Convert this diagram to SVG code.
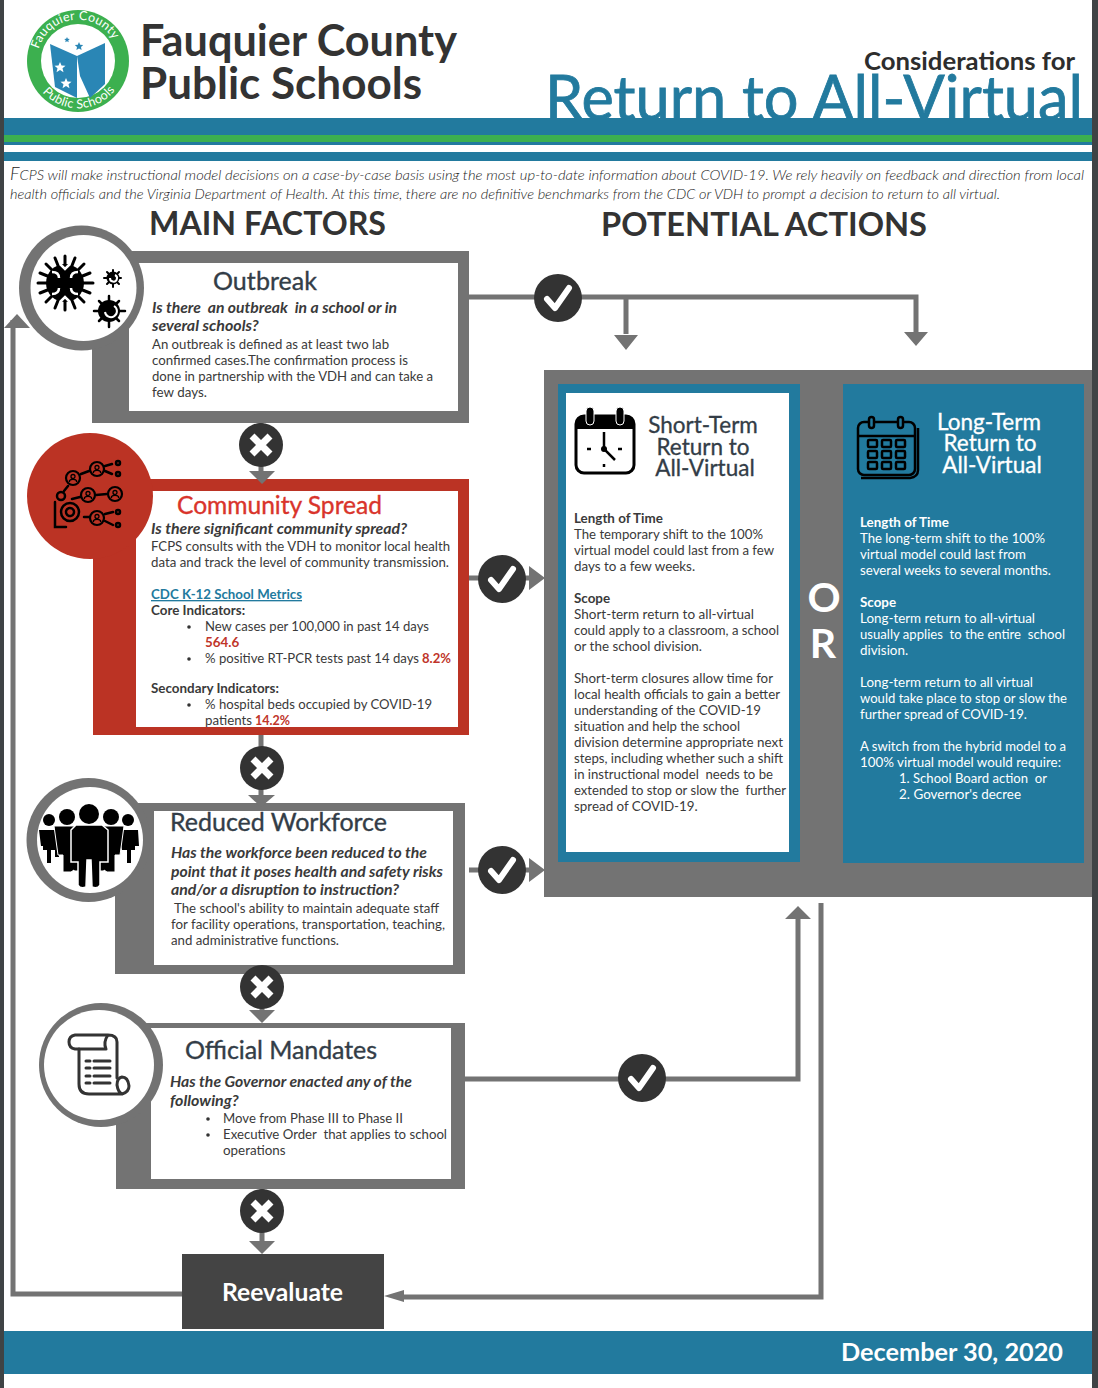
<svg xmlns="http://www.w3.org/2000/svg" width="1098" height="1388" viewBox="0 0 1098 1388">
<style>
text{font-family:Lato,"Liberation Sans",sans-serif;fill:#3a3a3a;white-space:pre}
.b{font-size:13.4px}
.bw{font-size:13.4px;fill:#fff}
.s{font-size:13.4px;font-weight:700}
.q{font-size:16px;font-weight:700;font-style:italic}
.t{font-size:25px;fill:#333d47;stroke:#333d47;stroke-width:.35}
.t2{font-size:22.500px;fill:#333d47;stroke:#333d47;stroke-width:.3}
.t3{font-size:22.500px;fill:#fff;stroke:#fff;stroke-width:.3}
.h{font-size:33px;font-weight:700;fill:#333}
.r{font-weight:700;fill:#c0352a;font-size:13.4px}
.g{fill:#737373}
.ln{fill:none;stroke:#737373;stroke-width:5}
.ic{fill:none;stroke:#000;stroke-width:2.500;stroke-linecap:round}
.ic2{fill:none;stroke:#333;stroke-width:3;stroke-linecap:round;stroke-linejoin:round}
.mk{fill:none;stroke:#fff;stroke-width:6;stroke-linecap:round;stroke-linejoin:round}
.bt{fill:#333}
</style>
<defs>
<g id="yes"><circle r="24" class="bt"/><path d="M-11,1 L-3,10 L11,-10" class="mk"/></g>
<g id="no"><circle r="22" class="bt"/><path d="M-9,-9 L9,9 M9,-9 L-9,9" class="mk" style="stroke-width:7;stroke-linecap:butt"/></g>
<g id="p"><circle r="7" fill="none" stroke="#000" stroke-width="2.200"/><circle cy="-1.500" r="2" fill="none" stroke="#000" stroke-width="1.300"/><path d="M-3.500,4 V2.500 Q0,0 3.500,2.500 V4" fill="none" stroke="#000" stroke-width="1.300"/></g>
</defs>
<rect width="1098" height="1388" fill="#fff"/>
<rect x="0" y="0" width="4" height="1388" fill="#3f4345"/>
<rect x="1092" y="0" width="6" height="1388" fill="#3f4345"/>

<g id="header">
<circle cx="78" cy="61" r="51" fill="#3cb04f"/><circle cx="78" cy="61" r="37" fill="#fff"/>
<path id="arcTop" d="M38.400,50 A41,41 0 0 1 117.600,50" fill="none"/>
<path id="arcBot" d="M40,89 A47,47 0 0 0 116,89" fill="none"/>
<text font-size="12.500" letter-spacing=".3" style="fill:#fff"><textPath href="#arcTop" startOffset="1">Fauquier County</textPath></text>
<text font-size="12.500" letter-spacing=".3" style="fill:#fff"><textPath href="#arcBot" startOffset="4">Public Schools</textPath></text>
<path d="M50,44 L77,56 V98 L55,87 Z" fill="#2a86b5"/><path d="M77,56 L105,43 V84 L90,98 L80,76 Z" fill="#2a86b5"/>
<path d="M60,62 l1.500,3.500 4,.3 -3,2.500 1,4 -3.500,-2.200 -3.500,2.200 1,-4 -3,-2.500 4,-.3z M66,78 l1.500,3.500 4,.3 -3,2.500 1,4 -3.500,-2.200 -3.500,2.200 1,-4 -3,-2.500 4,-.3z" fill="#fff"/>
<path d="M79,42 l1.200,2.700 3,.3 -2.200,2 .6,3 -2.600,-1.500 -2.600,1.500 .6,-3 -2.200,-2 3,-.3z M67,37 l.8,1.800 2,.2 -1.500,1.300 .4,2 -1.700,-1 -1.700,1 .4,-2 -1.500,-1.300 2,-.2z" fill="#2a86b5"/>
<text x="140" y="56" font-size="43" font-weight="700" style="fill:#333" textLength="317" lengthAdjust="spacingAndGlyphs">Fauquier County</text>
<text x="140" y="99" font-size="43" font-weight="700" style="fill:#333" textLength="282" lengthAdjust="spacingAndGlyphs">Public Schools</text>
<text x="1075" y="70" font-size="24" font-weight="700" text-anchor="end" style="fill:#2d2d2d" textLength="211" lengthAdjust="spacingAndGlyphs">Considerations for</text>
<text x="545" y="120" font-size="62" style="fill:#227a9e;stroke:#227a9e;stroke-width:.8" textLength="538" lengthAdjust="spacingAndGlyphs">Return to All-Virtual</text>
<rect x="4" y="118" width="1088" height="27" fill="#227a9e"/>
<rect x="4" y="135" width="1088" height="7" fill="#3cb04f"/>
<rect x="4" y="152" width="1088" height="9" fill="#227a9e"/>
<text x="10" y="180" font-size="14" font-style="italic" font-weight="300" style="fill:#222" textLength="1074" lengthAdjust="spacingAndGlyphs"><tspan font-size="17">F</tspan>CPS will make instructional model decisions on a case-by-case basis using the most up-to-date information about COVID-19. We rely heavily on feedback and direction from local</text>
<text x="10" y="199" font-size="14" font-style="italic" font-weight="300" style="fill:#222" textLength="990" lengthAdjust="spacingAndGlyphs">health officials and the Virginia Department of Health. At this time, there are no definitive benchmarks from the CDC or VDH to prompt a decision to return to all virtual.</text>
<text x="149" y="235" class="h" textLength="237" lengthAdjust="spacingAndGlyphs">MAIN FACTORS</text>
<text x="601" y="236" class="h" textLength="326" lengthAdjust="spacingAndGlyphs">POTENTIAL ACTIONS</text>
</g>

<g id="outbreak">
<rect x="92" y="251" width="377" height="172" class="g"/>
<rect x="129" y="263" width="329" height="148" fill="#fff"/>
<circle cx="81.500" cy="288" r="62.500" class="g"/><circle cx="83.500" cy="288" r="53" fill="#fff"/>
<g stroke="#000" stroke-width="3" stroke-linecap="round">
<path d="M65,256 V310 M38,283 H93 M46,264 L84,302 M84,264 L46,302 M55,258 L75,308 M75,258 L55,308 M40,273 L90,293 M40,293 L90,273"/>
<path d="M113,270 V287 M104,278 H121 M107,272 L119,284 M119,272 L107,284" stroke-width="2"/>
<path d="M109,296 V327 M94,311 H125 M99,301 L119,321 M119,301 L99,321" stroke-width="2.500"/>
</g>
<circle cx="65" cy="283" r="19" fill="#000"/><circle cx="113" cy="278" r="6.500" fill="#000"/><circle cx="109" cy="311" r="11" fill="#000"/>
<path d="M52,272 q7,0 7,6 M78,272 q-7,0 -7,6 M52,294 q7,0 7,-6 M78,294 q-7,0 -7,-6 M60,264 l5,5 5,-5 M60,302 l5,-5 5,5" fill="none" stroke="#fff" stroke-width="2.500"/>
<path d="M115,275 a3.500,3.500 0 1 1 -5,3 M114,306 a6,6 0 1 1 -9,6" fill="none" stroke="#fff" stroke-width="2"/>
<text x="213" y="290" class="t" textLength="104" lengthAdjust="spacing">Outbreak</text>
<text x="152" y="313" class="q" textLength="245" lengthAdjust="spacingAndGlyphs">Is there  an outbreak  in a school or in</text>
<text x="152" y="331" class="q">several schools?</text>
<text x="152" y="349" class="b" textLength="237" lengthAdjust="spacingAndGlyphs">An outbreak is defined as at least two lab</text>
<text x="152" y="365" class="b" textLength="256" lengthAdjust="spacingAndGlyphs">confirmed cases.The confirmation process is</text>
<text x="152" y="381" class="b" textLength="281" lengthAdjust="spacingAndGlyphs">done in partnership with the VDH and can take a</text>
<text x="152" y="397" class="b">few days.</text>
</g>

<g id="community-spread">
<rect x="93" y="479" width="376" height="256" fill="#bb3324"/>
<rect x="136" y="491" width="322" height="236" fill="#fff"/>
<circle cx="90" cy="496" r="63" fill="#bb3324"/>
<use href="#p" x="73" y="478"/><use href="#p" x="97" y="469"/><use href="#p" x="88" y="495"/><use href="#p" x="115" y="494"/><use href="#p" x="97" y="518"/>
<g class="ic">
<circle cx="70" cy="512" r="9"/><circle cx="70" cy="512" r="4" stroke-dasharray="2 1"/><circle cx="61" cy="496" r="4"/>
<circle cx="118" cy="463" r="2"/><circle cx="118" cy="474" r="2"/><circle cx="118" cy="512" r="2"/><circle cx="118" cy="525" r="2"/>
<path d="M81,474 L89,471 M105,466 L112,464 M105,471 L112,474 M72,499 L80,497 M96,495 L107,494 M84,517 L89,517 M105,514 L113,512 M105,521 L113,525 M64,491 L68,486 M55,502 V527 H66"/>
</g>
<text x="177" y="514" font-size="24.600" style="fill:#d9342b;stroke:#d9342b;stroke-width:.35" textLength="205" lengthAdjust="spacing">Community Spread</text>
<text x="151" y="534" class="q" textLength="256" lengthAdjust="spacingAndGlyphs">Is there significant community spread?</text>
<text x="151" y="551" class="b" textLength="299" lengthAdjust="spacingAndGlyphs">FCPS consults with the VDH to monitor local health</text>
<text x="151" y="567" class="b" textLength="298" lengthAdjust="spacingAndGlyphs">data and track the level of community transmission.</text>
<text x="151" y="599" class="s" style="fill:#227a9e" text-decoration="underline" textLength="151" lengthAdjust="spacingAndGlyphs">CDC K-12 School Metrics</text>
<text x="151" y="615" class="s">Core Indicators:</text>
<circle cx="189" cy="627" r="1.800" fill="#333"/>
<text x="205" y="631" class="b" textLength="224" lengthAdjust="spacingAndGlyphs">New cases per 100,000 in past 14 days</text>
<text x="205" y="647" class="r">564.6</text>
<circle cx="189" cy="659" r="1.800" fill="#333"/>
<text x="205" y="663" class="b" textLength="214" lengthAdjust="spacingAndGlyphs">% positive RT-PCR tests past 14 days</text>
<text x="422" y="663" class="r" textLength="29" lengthAdjust="spacingAndGlyphs">8.2%</text>
<text x="151" y="693" class="s">Secondary Indicators:</text>
<circle cx="189" cy="705" r="1.800" fill="#333"/>
<text x="205" y="709" class="b" textLength="227" lengthAdjust="spacingAndGlyphs">% hospital beds occupied by COVID-19</text>
<text x="205" y="725" class="b" textLength="47" lengthAdjust="spacingAndGlyphs">patients</text>
<text x="255" y="725" class="r" textLength="35" lengthAdjust="spacingAndGlyphs">14.2%</text>
</g>

<g id="reduced-workforce">
<rect x="115" y="803" width="350" height="171" class="g"/>
<rect x="154" y="811" width="299" height="154" fill="#fff"/>
<circle cx="88.500" cy="840" r="62" class="g"/><circle cx="90" cy="840" r="53" fill="#fff"/>
<circle cx="49" cy="820" r="6" fill="#000"/><circle cx="128" cy="820" r="6" fill="#000"/><circle cx="67" cy="817" r="8" fill="#000"/><circle cx="111" cy="817" r="8" fill="#000"/><circle cx="89" cy="814" r="10" fill="#000"/>
<path d="M39,830 H59 V857 H55 V850 L51,850 V863 H47 V850 L43,850 V846 H41 Z M118,830 H138 L139,846 H135 V850 L131,850 V863 H127 V850 L122,850 Z" fill="#000"/>
<path d="M54,826 H80 V871 H74 V870 L71,872 H63 V855 H58 Z M98,826 H124 L120,855 H115 V872 H107 L104,870 V871 H98 Z" fill="#000" stroke="#fff" stroke-width="1"/>
<path d="M76,825 H102 L108,830 V862 H100 V885 Q98,889 92,887 L91,860 H87 L86,887 Q80,889 78,885 V862 H71 V830 Z" fill="#000" stroke="#fff" stroke-width="1.500"/>
<text x="170" y="831" class="t" textLength="217" lengthAdjust="spacing">Reduced Workforce</text>
<text x="171" y="858" class="q" textLength="256" lengthAdjust="spacingAndGlyphs">Has the workforce been reduced to the</text>
<text x="171" y="877" class="q" textLength="272" lengthAdjust="spacingAndGlyphs">point that it poses health and safety risks</text>
<text x="171" y="895" class="q" textLength="228" lengthAdjust="spacingAndGlyphs">and/or a disruption to instruction?</text>
<text x="174" y="913" class="b" textLength="265" lengthAdjust="spacingAndGlyphs">The school's ability to maintain adequate staff</text>
<text x="171" y="929" class="b" textLength="274" lengthAdjust="spacingAndGlyphs">for facility operations, transportation, teaching,</text>
<text x="171" y="945" class="b" textLength="168" lengthAdjust="spacingAndGlyphs">and administrative functions.</text>
</g>

<g id="official-mandates">
<rect x="116" y="1023" width="349" height="166" class="g"/>
<rect x="151" y="1028" width="300" height="151" fill="#fff"/>
<circle cx="101" cy="1065" r="62" class="g"/><circle cx="99" cy="1065" r="55" fill="#fff"/>
<g class="ic2">
<path d="M117,1078 V1042 Q117,1035 108,1035 H75 Q69,1036 69,1042 Q69,1048 75,1049 H106 M106,1049 Q103,1042 108,1035"/>
<path d="M79,1049 V1084 Q79,1094 89,1094 H122 Q129,1092 129,1086 Q128,1077 122,1077 Q117,1078 117,1085 Q118,1092 122,1094"/>
<path d="M86,1061 H90 M94,1061 H110 M86,1068 H90 M94,1068 H110 M86,1076 H90 M94,1076 H110 M86,1083 H90 M94,1083 H110"/>
</g>
<text x="185" y="1059" class="t" textLength="192" lengthAdjust="spacing">Official Mandates</text>
<text x="170" y="1087" class="q" textLength="242" lengthAdjust="spacingAndGlyphs">Has the Governor enacted any of the</text>
<text x="170" y="1106" class="q">following?</text>
<circle cx="208" cy="1119" r="1.800" fill="#333"/>
<text x="223" y="1123" class="b" textLength="180" lengthAdjust="spacingAndGlyphs">Move from Phase III to Phase II</text>
<circle cx="208" cy="1135" r="1.800" fill="#333"/>
<text x="223" y="1139" class="b" textLength="224" lengthAdjust="spacingAndGlyphs">Executive Order  that applies to school</text>
<text x="223" y="1155" class="b">operations</text>
</g>

<g id="reevaluate">
<rect x="182" y="1254" width="202" height="75" fill="#444"/>
<text x="222" y="1301" font-size="24" font-weight="700" style="fill:#fff" textLength="121" lengthAdjust="spacingAndGlyphs">Reevaluate</text>
</g>

<g id="actions">
<rect x="544" y="370" width="548" height="527" class="g"/>
<text x="824" y="612" font-size="41" font-weight="700" text-anchor="middle" style="fill:#fff">O</text>
<text x="823" y="658" font-size="41" font-weight="700" text-anchor="middle" style="fill:#fff">R</text>
</g>

<g id="short-term">
<rect x="558" y="384" width="242" height="478" fill="#227a9e"/>
<rect x="566" y="393" width="223" height="459" fill="#fff"/>
<rect x="576" y="416" width="58" height="57" rx="8" fill="#fff" stroke="#000" stroke-width="3"/>
<path d="M576,429 V424 Q576,416 584,416 H626 Q634,416 634,424 V429 Z" fill="#000"/>
<rect x="586" y="407" width="8" height="18" rx="4" fill="#000" stroke="#fff"/><rect x="616" y="407" width="8" height="18" rx="4" fill="#000" stroke="#fff"/>
<path d="M604,432 V449 L615,460" fill="none" stroke="#000" stroke-width="2.500"/>
<circle cx="604" cy="449" r="3" fill="#000"/><path d="M587,449 H591 M618,449 H622 M604,464 V467" stroke="#000" stroke-width="2.500"/>
<text x="703" y="433" class="t2" text-anchor="middle">Short-Term</text><text x="703" y="455" class="t2" text-anchor="middle">Return to</text><text x="705" y="476" class="t2" text-anchor="middle">All-Virtual</text>
<text x="574" y="523" class="s">Length of Time</text>
<text x="574" y="539" class="b" textLength="189" lengthAdjust="spacingAndGlyphs">The temporary shift to the 100%</text>
<text x="574" y="555" class="b" textLength="200" lengthAdjust="spacingAndGlyphs">virtual model could last from a few</text>
<text x="574" y="571" class="b">days to a few weeks.</text>
<text x="574" y="603" class="s">Scope</text>
<text x="574" y="619" class="b" textLength="180" lengthAdjust="spacingAndGlyphs">Short-term return to all-virtual</text>
<text x="574" y="635" class="b" textLength="205" lengthAdjust="spacingAndGlyphs">could apply to a classroom, a school</text>
<text x="574" y="651" class="b">or the school division.</text>
<text x="574" y="683" class="b" textLength="199" lengthAdjust="spacingAndGlyphs">Short-term closures allow time for</text>
<text x="574" y="699" class="b" textLength="206" lengthAdjust="spacingAndGlyphs">local health officials to gain a better</text>
<text x="574" y="715" class="b" textLength="187" lengthAdjust="spacingAndGlyphs">understanding of the COVID-19</text>
<text x="574" y="731" class="b" textLength="166" lengthAdjust="spacingAndGlyphs">situation and help the school</text>
<text x="574" y="747" class="b" textLength="209" lengthAdjust="spacingAndGlyphs">division determine appropriate next</text>
<text x="574" y="763" class="b" textLength="209" lengthAdjust="spacingAndGlyphs">steps, including whether such a shift</text>
<text x="574" y="779" class="b" textLength="199" lengthAdjust="spacingAndGlyphs">in instructional model  needs to be</text>
<text x="574" y="795" class="b" textLength="212" lengthAdjust="spacingAndGlyphs">extended to stop or slow the  further</text>
<text x="574" y="811" class="b">spread of COVID-19.</text>
</g>

<g id="long-term">
<rect x="843" y="384" width="241" height="479" fill="#227a9e"/>
<g fill="none" stroke="#000" stroke-width="2.500">
<rect x="858" y="422" width="57" height="53" rx="6"/>
<path d="M861,478 H910 Q918,477 918,470 V428 M858,436 H915"/>
<rect x="869" y="417" width="5" height="11" rx="2.500" fill="#227a9e"/><rect x="898" y="417" width="5" height="11" rx="2.500" fill="#227a9e"/>
<rect x="868" y="440" width="9" height="7" rx="1"/><rect x="882" y="440" width="9" height="7" rx="1"/><rect x="896" y="440" width="9" height="7" rx="1"/>
<rect x="868" y="451" width="9" height="7" rx="1"/><rect x="882" y="451" width="9" height="7" rx="1"/><rect x="896" y="451" width="9" height="7" rx="1"/>
<rect x="868" y="462" width="9" height="7" rx="1"/><rect x="882" y="462" width="9" height="7" rx="1"/><rect x="896" y="462" width="9" height="7" rx="1"/>
</g>
<text x="989" y="430" class="t3" text-anchor="middle">Long-Term</text><text x="990" y="451" class="t3" text-anchor="middle">Return to</text><text x="992" y="473" class="t3" text-anchor="middle">All-Virtual</text>
<text x="860" y="527" class="s" style="fill:#fff">Length of Time</text>
<text x="860" y="543" class="bw" textLength="185" lengthAdjust="spacingAndGlyphs">The long-term shift to the 100%</text>
<text x="860" y="559" class="bw" textLength="166" lengthAdjust="spacingAndGlyphs">virtual model could last from</text>
<text x="860" y="575" class="bw" textLength="191" lengthAdjust="spacingAndGlyphs">several weeks to several months.</text>
<text x="860" y="607" class="s" style="fill:#fff">Scope</text>
<text x="860" y="623" class="bw" textLength="175" lengthAdjust="spacingAndGlyphs">Long-term return to all-virtual</text>
<text x="860" y="639" class="bw" textLength="205" lengthAdjust="spacingAndGlyphs">usually applies  to the entire  school</text>
<text x="860" y="655" class="bw">division.</text>
<text x="860" y="687" class="bw" textLength="173" lengthAdjust="spacingAndGlyphs">Long-term return to all virtual</text>
<text x="860" y="703" class="bw" textLength="207" lengthAdjust="spacingAndGlyphs">would take place to stop or slow the</text>
<text x="860" y="719" class="bw" textLength="167" lengthAdjust="spacingAndGlyphs">further spread of COVID-19.</text>
<text x="860" y="751" class="bw" textLength="206" lengthAdjust="spacingAndGlyphs">A switch from the hybrid model to a</text>
<text x="860" y="767" class="bw" textLength="201" lengthAdjust="spacingAndGlyphs">100% virtual model would require:</text>
<text x="899" y="783" class="bw" textLength="148" lengthAdjust="spacingAndGlyphs">1. School Board action  or</text>
<text x="899" y="799" class="bw" textLength="122" lengthAdjust="spacingAndGlyphs">2. Governor's decree</text>
</g>

<g id="footer">
<rect x="4" y="1331" width="1088" height="43" fill="#227a9e"/>
<text x="841" y="1361" font-size="25" font-weight="700" style="fill:#fff" textLength="222" lengthAdjust="spacingAndGlyphs">December 30, 2020</text>
</g>

<g id="connectors">
<path class="ln" d="M469,297 H916 V334 M626,297 V334"/>
<path class="g" d="M614,335 H638 L626,350 Z M904,332 H928 L916,346 Z"/>
<path class="ln" d="M469,578 H532 M469,870 H532 M465,1079 H798 V915 M821,903 V1297 H398"/>
<path class="g" d="M529,566 L545,578 L529,590 Z M529,858 L545,870 L529,882 Z M785,919 L798,906 L811,919 Z M404,1290 L384,1296 L404,1302 Z"/>
<path class="ln" d="M261,423 V474 M261,735 V795 M262,974 V1012 M262,1189 V1245"/>
<path class="g" d="M249,471 H275 L262,484 Z M248,795 H275 L261,807 Z M249,1010 H275 L262,1023 Z M249,1241 H275 L262,1254 Z"/>
<path d="M182,1294 H13 V320" fill="none" stroke="#737373" stroke-width="5"/>
<path class="g" d="M4,328 L17,314 L30,328 Z"/>
<use href="#yes" x="558" y="298"/>
<use href="#yes" x="502" y="579"/>
<use href="#yes" x="502" y="870"/>
<use href="#yes" x="642" y="1078"/>
<use href="#no" x="261" y="445"/>
<use href="#no" x="262" y="768"/>
<use href="#no" x="262" y="987"/>
<use href="#no" x="262" y="1211"/>
</g>
</svg>
